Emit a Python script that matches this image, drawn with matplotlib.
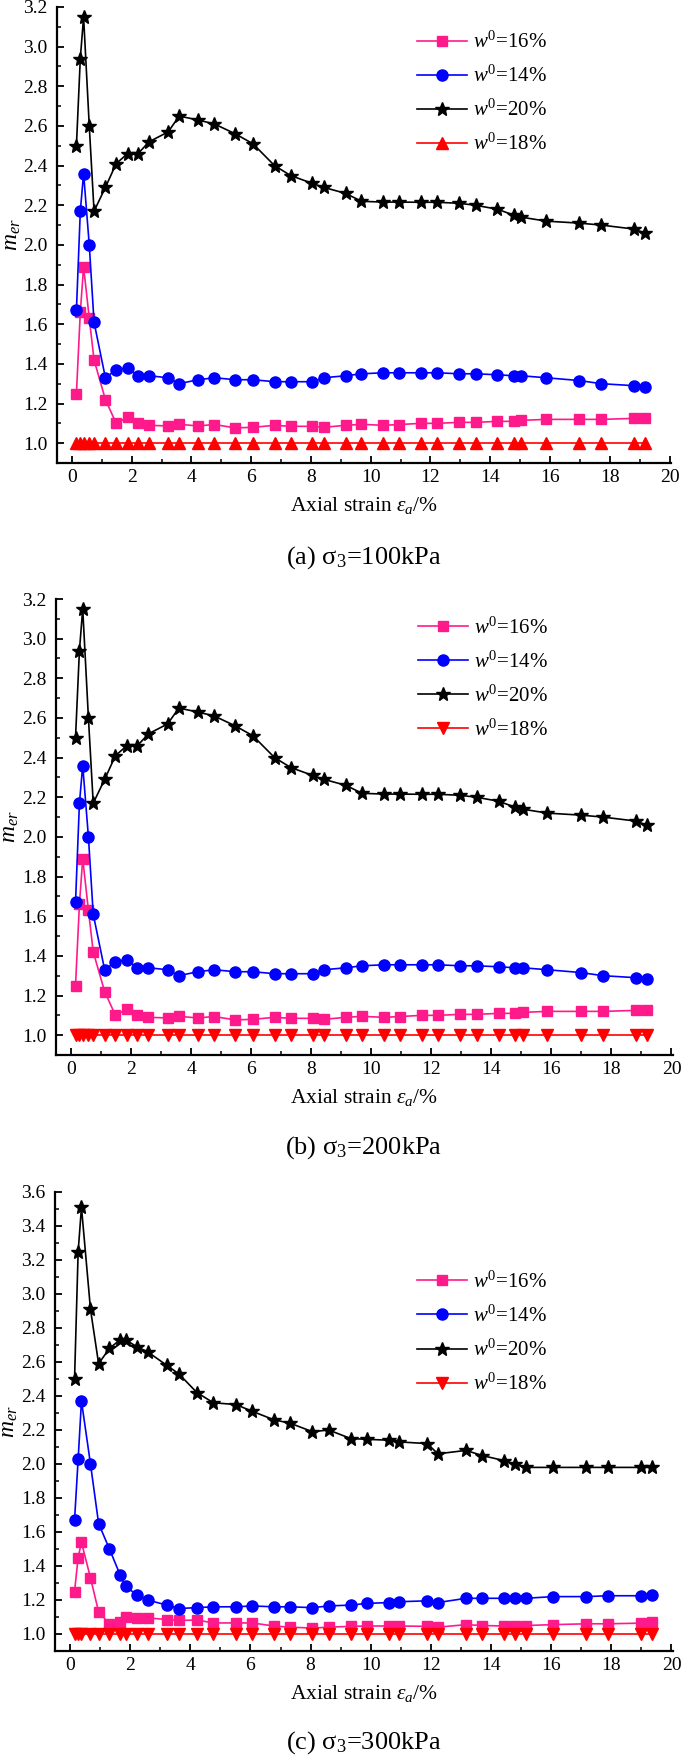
import matplotlib.pyplot as plt
from matplotlib.ticker import MultipleLocator

plt.rcParams['font.family'] = ['Liberation Serif', 'DejaVu Serif']
plt.rcParams['mathtext.fontset'] = 'custom'
plt.rcParams['mathtext.rm'] = 'Liberation Serif'
plt.rcParams['mathtext.it'] = 'Liberation Serif:italic'

# strain values (%) - panels (a) and (b) share the same test points
strain_ab = [0.15, 0.28, 0.39, 0.58, 0.74, 1.12, 1.48, 1.86, 2.21, 2.58, 3.22, 3.59,
             4.22, 4.77, 5.47, 6.06, 6.78, 7.32, 8.05, 8.43, 9.16, 9.69, 10.42, 10.95,
             11.69, 12.23, 12.96, 13.51, 14.24, 14.79, 15.04, 15.87, 16.97, 17.72, 18.81, 19.17]
w16_ab = [1.25, 1.66, 1.89, 1.63, 1.42, 1.22, 1.10, 1.13, 1.10, 1.09, 1.087, 1.095,
          1.087, 1.094, 1.077, 1.08, 1.09, 1.085, 1.085, 1.08, 1.09, 1.095, 1.09, 1.094,
          1.10, 1.10, 1.105, 1.105, 1.11, 1.11, 1.115, 1.12, 1.12, 1.12, 1.125, 1.125]
w14_ab = [1.67, 2.17, 2.36, 2.00, 1.61, 1.33, 1.37, 1.38, 1.34, 1.34, 1.33, 1.30,
          1.32, 1.33, 1.32, 1.32, 1.31, 1.31, 1.31, 1.33, 1.34, 1.35, 1.355, 1.355,
          1.355, 1.355, 1.35, 1.35, 1.345, 1.34, 1.34, 1.33, 1.316, 1.30, 1.29, 1.285]
w20_ab = [2.50, 2.94, 3.15, 2.60, 2.17, 2.29, 2.41, 2.46, 2.46, 2.52, 2.57, 2.65,
          2.63, 2.61, 2.56, 2.51, 2.40, 2.35, 2.31, 2.29, 2.26, 2.22, 2.216, 2.216,
          2.215, 2.215, 2.21, 2.20, 2.18, 2.15, 2.14, 2.12, 2.11, 2.10, 2.08, 2.06]
w18_ab = [1.0] * len(strain_ab)

strain_c = [0.15, 0.27, 0.38, 0.68, 0.95, 1.31, 1.66, 1.85, 2.22, 2.58, 3.22, 3.62,
            4.22, 4.77, 5.51, 6.06, 6.78, 7.32, 8.06, 8.60, 9.33, 9.87, 10.61, 10.94,
            11.88, 12.23, 13.17, 13.70, 14.43, 14.80, 15.16, 16.06, 17.17, 17.88, 18.99, 19.35]
w16_c = [1.25, 1.45, 1.54, 1.33, 1.13, 1.06, 1.07, 1.10, 1.095, 1.095, 1.085, 1.08,
         1.082, 1.065, 1.065, 1.065, 1.047, 1.04, 1.035, 1.04, 1.045, 1.047, 1.047, 1.047,
         1.045, 1.04, 1.055, 1.05, 1.047, 1.047, 1.05, 1.055, 1.06, 1.06, 1.064, 1.07]
w14_c = [1.67, 2.03, 2.37, 2.00, 1.65, 1.50, 1.35, 1.28, 1.23, 1.20, 1.17, 1.15,
         1.155, 1.16, 1.16, 1.165, 1.16, 1.16, 1.155, 1.165, 1.17, 1.18, 1.185, 1.19,
         1.195, 1.185, 1.21, 1.21, 1.21, 1.21, 1.21, 1.22, 1.22, 1.225, 1.225, 1.23]
w20_c = [2.50, 3.25, 3.51, 2.91, 2.59, 2.68, 2.73, 2.73, 2.69, 2.66, 2.58, 2.53,
         2.42, 2.36, 2.35, 2.31, 2.26, 2.24, 2.19, 2.20, 2.15, 2.145, 2.14, 2.13,
         2.12, 2.06, 2.08, 2.05, 2.02, 2.00, 1.98, 1.98, 1.98, 1.98, 1.98, 1.98]
w18_c = [1.0] * len(strain_c)

captions = ['(a) σ$_3$=100kPa', '(b) σ$_3$=200kPa', '(c) σ$_3$=300kPa']
labels = ['$w^{\\mathrm{0}}$=16%', '$w^{\\mathrm{0}}$=14%', '$w^{\\mathrm{0}}$=20%', '$w^{\\mathrm{0}}$=18%']

W, H = 685, 1755
fig = plt.figure(figsize=(W / 100, H / 100), dpi=100)

def px_axes(left, top, right, bottom):
    return fig.add_axes([left / W, 1 - bottom / H, (right - left) / W, (bottom - top) / H])

panels = [
    dict(box=(57, 7, 671, 463), x=strain_ab, ys=(w16_ab, w14_ab, w20_ab, w18_ab), tri='^',
         ylim=(0.9, 3.2), leg=0.946, cap_y=558),
    dict(box=(56, 599, 673, 1055), x=strain_ab, ys=(w16_ab, w14_ab, w20_ab, w18_ab), tri='v',
         ylim=(0.9, 3.2), leg=0.96, cap_y=1148),
    dict(box=(55, 1192, 673, 1651), x=strain_c, ys=(w16_c, w14_c, w20_c, w18_c), tri='v',
         ylim=(0.9, 3.6), leg=0.827, cap_y=1743),
]

colors = ['#ff1a8c', '#0000ff', 'black', '#ff0000']

for i, p in enumerate(panels):
    ax = px_axes(*p['box'])
    markers = ['s', 'o', '*', p['tri']]
    sizes = [7, 8, 10.5, 8.5]
    for y, c, m, ms, lab in zip(p['ys'], colors, markers, sizes, labels):
        ax.plot(p['x'], y, color=c, marker=m, markersize=ms, markeredgecolor=c,
                linewidth=1.2, label=lab, clip_on=False)
    ax.set_xlim(-0.5, 20.05)
    ax.set_ylim(*p['ylim'])
    ax.xaxis.set_major_locator(MultipleLocator(2))
    ax.xaxis.set_minor_locator(MultipleLocator(1))
    ax.yaxis.set_major_locator(MultipleLocator(0.2))
    ax.yaxis.set_minor_locator(MultipleLocator(0.1))
    ax.yaxis.set_major_formatter(plt.FormatStrFormatter('%.1f'))
    ax.spines['top'].set_visible(False)
    ax.spines['right'].set_visible(False)
    for s in ('left', 'bottom'):
        ax.spines[s].set_linewidth(1.6)
    ax.tick_params(which='major', direction='in', length=5, width=1.3, labelsize=14)
    ax.tick_params(axis='y', which='major', pad=7)
    ax.tick_params(axis='x', which='major', pad=4)
    ax.tick_params(which='minor', direction='in', length=3, width=1.1)
    ax.set_xlabel('Axial strain $\\varepsilon_a$/%', fontsize=15.5, labelpad=7)
    ax.set_ylabel('$m_{er}$', fontsize=17)
    ax.yaxis.set_label_coords(-0.056, 0.5)
    ax.legend(loc='upper left', bbox_to_anchor=(0.586, p['leg']), frameon=False, fontsize=15,
              handlelength=2.4, labelspacing=0.62, handletextpad=0.3, borderaxespad=0,
              borderpad=0)
    fig.text(364 / W, 1 - p['cap_y'] / H, captions[i], fontsize=19, ha='center', va='center')

fig.savefig('out.png', dpi=100)
